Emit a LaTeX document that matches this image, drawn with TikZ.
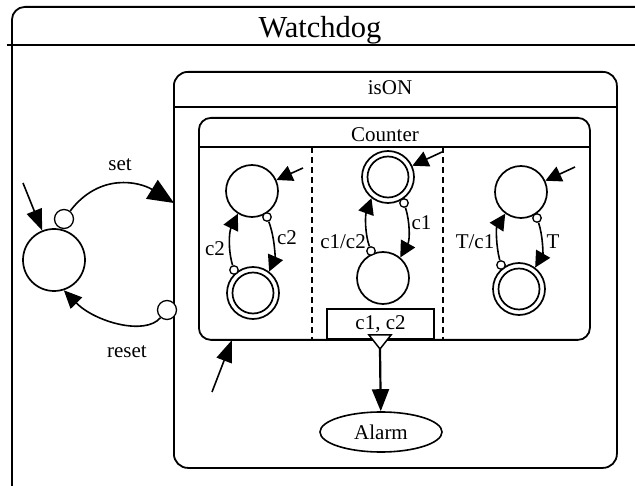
\documentclass[tikz,border=0pt]{standalone}
\usepackage{fontspec}
\setmainfont{Liberation Serif}
\usetikzlibrary{arrows.meta,shapes.geometric}

\tikzset{
  frame/.style={draw, line width=1.8pt, rectangle, rounded corners=#1, inner sep=0pt, anchor=north west},
  rule/.style={line width=1.8pt},
  region/.style={line width=1.4pt, dash pattern=on 6pt off 4pt},
  sstate/.style={circle, draw, line width=1.7pt, minimum size=52pt, inner sep=0pt},
  fstate/.style={sstate, path picture={\draw[line width=1.7pt] (path picture bounding box.center) circle (20.5pt);}},
  src/.style={circle, draw, fill=white, line width=1.3pt, minimum size=8.5pt, inner sep=0pt},
  bigsrc/.style={src, minimum size=19pt},
  trans/.style={line width=1.6pt, -{Triangle[length=16pt,width=16pt]}},
  lbl/.style={anchor=base, inner sep=0pt, font=\fontsize{21}{24}\selectfont},
}

\begin{document}
\begin{tikzpicture}[x=1pt,y=1pt]
\clip (0,0) rectangle (635,-486);

% outer state Watchdog
\node[frame=13pt, minimum width=700pt, minimum height=600pt] (watchdog) at (11,-6) {};
\draw[rule] (7,-45) -- (640,-45);
\node[lbl, font=\fontsize{30.5}{34}\selectfont] (wdtitle) at (320,-38) {Watchdog};

% state isON
\node[frame=14pt, minimum width=443pt, minimum height=396pt] (isON) at (173,-71) {};
\draw[rule] (173,-107) -- (616,-107);
\node[lbl] (isONtitle) at (390,-95) {isON};

% orthogonal state Counter
\node[frame=12pt, minimum width=391pt, minimum height=222pt] (counter) at (198,-117) {};
\draw[rule] (198,-147) -- (589,-147);
\node[lbl] (countertitle) at (385,-142) {Counter};
\draw[region] (312,-147) -- (312,-339);
\draw[region] (443,-147) -- (443,-339);

% guard box and junction to Alarm
\node[draw, fill=white, line width=1.6pt, minimum width=107pt, minimum height=30pt,
      inner sep=0pt, font=\fontsize{21}{24}\selectfont] (guard) at (380.5,-324) {c1, c2};
\draw[line width=1.5pt, fill=white] (369,-335) -- (391,-335) -- (380,-349) -- cycle;
\coordinate (junction) at (380,-349);
\node[ellipse, draw, line width=1.6pt, minimum width=122pt, minimum height=40pt,
      inner sep=0pt, font=\fontsize{21}{24}\selectfont] (alarm) at (381,-432) {Alarm};
\draw[line width=2.2pt, -{Triangle[length=22pt,width=17pt]}] (junction) -- (alarm);

% state outside isON, set / reset
\node[sstate, minimum size=62pt] (off) at (54,-260) {};
\coordinate (offInit) at (23,-183);
\draw[line width=1.6pt, -{Triangle[length=21pt,width=16pt]}] (offInit) -- (off);
\node[bigsrc] (setSrc) at (64,-219) {};
\coordinate (setEnd) at (174,-203);
\draw[line width=1.6pt, -{Triangle[length=26pt,width=22pt]}]
  (setSrc) .. controls (100,-172) and (140,-182) .. (setEnd);
\node[lbl] (setLbl) at (120,-171) {set};
\node[bigsrc] (resetSrc) at (167,-310) {};
\draw[line width=1.6pt, -{Triangle[length=18pt,width=16pt]}]
  (resetSrc) .. controls (145,-336) and (95,-322) .. (off.-72);
\node[lbl] (resetLbl) at (127,-358) {reset};

% default entry into Counter
\coordinate (cInit) at (212,-392);
\coordinate (cEnd) at (232,-340);
\draw[line width=1.6pt, -{Triangle[length=22pt,width=16pt]}] (cInit) -- (cEnd);

% left region
\node[sstate] (l1) at (252,-191) {};
\node[fstate] (l2) at (253,-293) {};
\node[src] (l1s) at (267,-217) {};
\node[src] (l2s) at (234,-270) {};
\coordinate (l1i) at (303,-168);
\draw[trans] (l1i) -- (l1);
\draw[trans] (l1s) .. controls (275,-238) and (275,-258) .. (l2.53);
\draw[trans] (l2s) .. controls (228,-250) and (229,-232) .. (l1.238);
\node[lbl] (l12) at (287,-245) {c2};
\node[lbl] (l21) at (215,-256) {c2};

% middle region
\node[fstate] (m1) at (388,-177) {};
\node[sstate] (m2) at (383,-278) {};
\node[src] (m1s) at (404,-203) {};
\node[src] (m2s) at (371,-251) {};
\coordinate (m1i) at (442,-152);
\draw[trans] (m1i) -- (m1);
\draw[trans] (m1s) .. controls (410,-222) and (410,-240) .. (m2.50);
\draw[trans] (m2s) .. controls (365,-234) and (365,-216) .. (m1.232);
\node[lbl] (m12) at (421.5,-230) {c1};
\node[lbl] (m21) at (343,-249) {c1/c2};

% right region
\node[sstate] (r1) at (521,-192) {};
\node[fstate] (r2) at (519,-289) {};
\node[src] (r1s) at (537,-218) {};
\node[src] (r2s) at (501,-265) {};
\coordinate (r1i) at (575,-167);
\draw[trans] (r1i) -- (r1);
\draw[trans] (r1s) .. controls (543,-236) and (543,-254) .. (r2.53);
\draw[trans] (r2s) .. controls (496,-246) and (496,-228) .. (r1.234);
\node[lbl] (r12) at (553,-249) {T};
\node[lbl] (r21) at (475,-249) {T/c1};
\end{tikzpicture}
\end{document}
